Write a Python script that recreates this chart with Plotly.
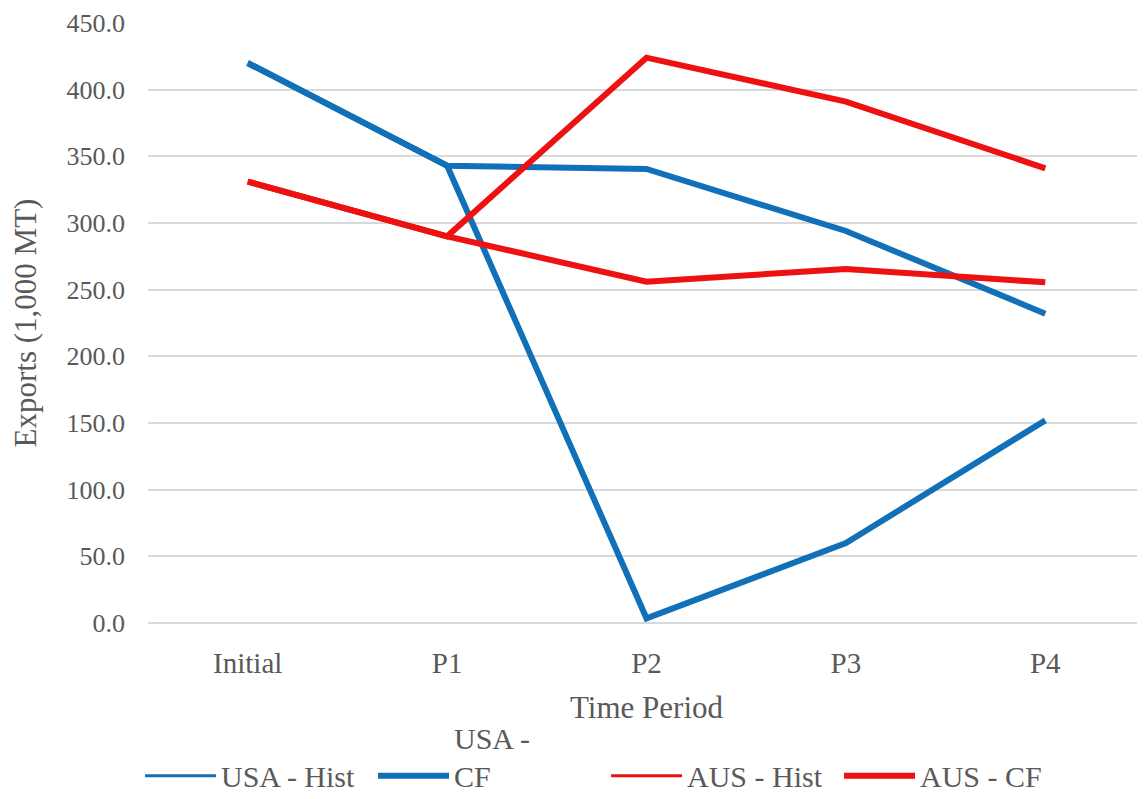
import plotly.graph_objects as go

periods = ["Initial", "P1", "P2", "P3", "P4"]
usa_hist = [420.0, 343.0, 3.5, 60.0, 152.0]
usa_cf = [420.0, 343.0, 340.5, 294.0, 232.0]
aus_hist = [331.0, 290.0, 424.0, 391.0, 341.0]
aus_cf = [331.0, 290.0, 256.0, 265.5, 255.5]

BLUE = "#1170B8"
RED = "#EE1111"
FONT = "Liberation Serif"
GREY = "#595959"

fig = go.Figure()
series = [
    (" <br>USA - Hist", usa_hist, BLUE, 3),
    ("USA -<br>CF", usa_cf, BLUE, 6),
    (" <br>AUS - Hist", aus_hist, RED, 3),
    (" <br>AUS - CF", aus_cf, RED, 6),
]
for name, vals, col, lw in series:
    fig.add_trace(go.Scatter(x=periods, y=vals, mode="lines", name=name,
                             line=dict(color=col, width=6), showlegend=False))
for name, vals, col, lw in series:
    fig.add_trace(go.Scatter(x=[None], y=[None], mode="lines", name=name,
                             line=dict(color=col, width=lw), showlegend=True))

fig.update_layout(
    width=1137, height=791,
    margin=dict(l=140, r=0, t=15, b=176, autoexpand=False),
    paper_bgcolor="white", plot_bgcolor="white",
    font=dict(family=FONT, color=GREY, size=26),
    showlegend=True,
    legend=dict(orientation="h", x=-0.008, xanchor="left", y=-0.298, yanchor="bottom",
                font=dict(family=FONT, size=30, color=GREY), valign="bottom",
                itemwidth=71, entrywidth=147, entrywidthmode="pixels", traceorder="normal"),
)
fig.update_xaxes(type="category", range=[-0.5, 4.5], showgrid=False, showline=False,
                 ticks="", tickfont=dict(size=29, color=GREY), ticklabelstandoff=20,
                 title=dict(text="Time Period", font=dict(size=31, color=GREY), standoff=18))
fig.update_yaxes(range=[0, 450], dtick=50, tickformat=".1f", showgrid=True,
                 gridcolor="#D9D9D9", gridwidth=1.5, zeroline=True, zerolinecolor="#D9D9D9",
                 zerolinewidth=1.5, showline=False, ticks="", ticklabeloverflow="allow",
                 tickfont=dict(size=26, color=GREY), ticklabelstandoff=22,
                 title=dict(text="Exports (1,000 MT)", font=dict(size=31, color=GREY), standoff=22))

fig.write_html("out.html")
